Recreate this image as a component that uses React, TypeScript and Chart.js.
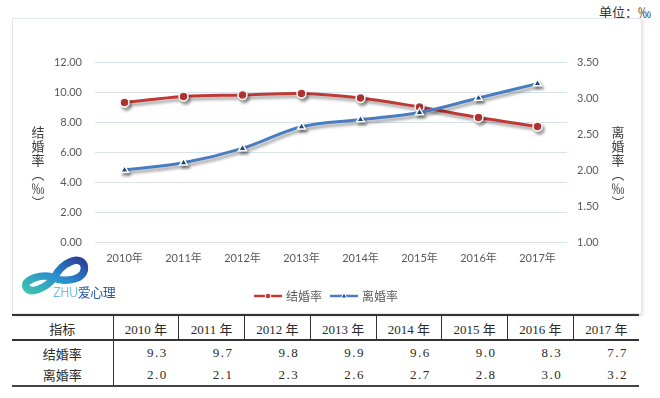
import React, { useEffect, useRef } from 'react';
import { Chart, registerables } from 'chart.js';

Chart.register(...registerables);

const years = ['2010年', '2011年', '2012年', '2013年', '2014年', '2015年', '2016年', '2017年'];
const tableYears = ['2010 年', '2011 年', '2012 年', '2013 年', '2014 年', '2015 年', '2016 年', '2017 年'];
const marriageRate = [9.3, 9.7, 9.8, 9.9, 9.6, 9.0, 8.3, 7.7];
const divorceRate = [2.0, 2.1, 2.3, 2.6, 2.7, 2.8, 3.0, 3.2];
const leftTicks = [0, 2, 4, 6, 8, 10, 12];
const rightTicks = [1.0, 1.5, 2.0, 2.5, 3.0, 3.5];
const seriesNames = ['结婚率', '离婚率'];
const leftTitleChars = ['结', '婚', '率', '︵', '‰', '︶'];
const rightTitleChars = ['离', '婚', '率', '︵', '‰', '︶'];
const unitLabel = '单位：‰';
const tableHeadLabel = '指标';

const RED = '#BE3A36';
const BLUE = '#4A7DBF';
const BLUE_MARK = '#24508F';
const CJK = '"Noto Sans CJK SC"';
const TICK_FONT = 'Lato, "Noto Sans CJK SC", sans-serif';

function makeIcon(kind: 'circle' | 'triangle') {
  const c = document.createElement('canvas');
  c.width = 28;
  c.height = 10;
  const ctx = c.getContext('2d')!;
  ctx.strokeStyle = kind === 'circle' ? RED : BLUE;
  ctx.lineWidth = 2.5;
  ctx.beginPath();
  ctx.moveTo(0, 5);
  ctx.lineTo(28, 5);
  ctx.stroke();
  ctx.fillStyle = kind === 'circle' ? RED : BLUE_MARK;
  ctx.strokeStyle = '#fff';
  ctx.lineWidth = 1;
  ctx.beginPath();
  if (kind === 'circle') {
    ctx.arc(14, 5, 2.8, 0, Math.PI * 2);
  } else {
    ctx.moveTo(14, 2);
    ctx.lineTo(17, 7);
    ctx.lineTo(11, 7);
    ctx.closePath();
  }
  ctx.fill();
  ctx.stroke();
  return c;
}

const shadowPlugin = {
  id: 'seriesShadow',
  beforeDatasetsDraw(chart: any) {
    const ctx = chart.ctx;
    ctx.save();
    ctx.shadowColor = 'rgba(0,0,0,0.35)';
    ctx.shadowBlur = 3;
    ctx.shadowOffsetX = 2;
    ctx.shadowOffsetY = 3;
  },
  afterDatasetsDraw(chart: any) {
    chart.ctx.restore();
  },
};

const verticalTitlePlugin = {
  id: 'verticalTitles',
  afterDraw(chart: any) {
    const { ctx, chartArea } = chart;
    ctx.save();
    ctx.font = `13px ${CJK}`;
    ctx.fillStyle = '#3a3a3a';
    ctx.textAlign = 'center';
    ctx.textBaseline = 'middle';
    const draw = (chars: string[], x: number) =>
      chars.forEach((ch, i) => ctx.fillText(ch, x, chartArea.top + 70 + i * 14));
    draw(leftTitleChars, chartArea.left - 57);
    draw(rightTitleChars, chartArea.right + 51);
    ctx.restore();
  },
};

function ChartBox() {
  const ref = useRef<HTMLCanvasElement>(null);
  useEffect(() => {
    const icons = [makeIcon('circle'), makeIcon('triangle')];
    const chart = new Chart(ref.current!, {
      type: 'line',
      data: {
        labels: years,
        datasets: [
          {
            label: seriesNames[0],
            data: marriageRate,
            yAxisID: 'y',
            borderColor: RED,
            backgroundColor: RED,
            borderWidth: 3,
            tension: 0.35,
            pointStyle: 'circle',
            pointRadius: 4.5,
            pointBackgroundColor: RED,
            pointBorderColor: '#fff',
            pointBorderWidth: 1.5,
            order: 1,
          },
          {
            label: seriesNames[1],
            data: divorceRate,
            yAxisID: 'y1',
            borderColor: BLUE,
            backgroundColor: BLUE,
            borderWidth: 3,
            tension: 0.35,
            pointStyle: 'triangle',
            pointRadius: 4.5,
            pointBackgroundColor: BLUE_MARK,
            pointBorderColor: '#fff',
            pointBorderWidth: 1.5,
            order: 0,
          },
        ],
      },
      options: {
        animation: false,
        responsive: false,
        layout: { padding: { left: 0, right: 0, top: 43, bottom: 1 } },
        plugins: {
          tooltip: { enabled: false },
          legend: {
            position: 'bottom',
            labels: {
              usePointStyle: true,
              pointStyleWidth: 24,
              boxHeight: 10,
              padding: 10,
              color: '#595959',
              font: { size: 12, family: CJK },
              generateLabels: (c: any) => {
                const items = (Chart.defaults.plugins.legend.labels as any).generateLabels(c);
                return items
                  .sort((a: any, b: any) => a.datasetIndex - b.datasetIndex)
                  .map((it: any) => ({ ...it, pointStyle: icons[it.datasetIndex], lineWidth: 0 }));
              },
            },
          },
        },
        scales: {
          x: {
            offset: true,
            grid: { display: false, drawTicks: false, offset: true },
            border: { display: false },
            ticks: { padding: 10, color: '#595959', font: { size: 11, family: TICK_FONT } },
            afterFit: (s: any) => {
              s.height = 38;
            },
          },
          y: {
            position: 'left',
            min: 0,
            max: 12,
            grid: { color: '#d9e3ee', lineWidth: 1, drawTicks: false },
            border: { display: false },
            ticks: {
              padding: 13,
              color: '#595959',
              font: { size: 11, family: TICK_FONT },
              callback: (v: any) => Number(v).toFixed(2),
            },
            afterBuildTicks: (s: any) => {
              s.ticks = leftTicks.map((v) => ({ value: v }));
            },
            afterFit: (s: any) => {
              s.width = 82;
            },
          },
          y1: {
            position: 'right',
            min: 1,
            max: 3.5,
            grid: { display: false, drawTicks: false },
            border: { display: false },
            ticks: {
              padding: 10,
              color: '#595959',
              font: { size: 11, family: TICK_FONT },
              callback: (v: any) => Number(v).toFixed(2),
            },
            afterBuildTicks: (s: any) => {
              s.ticks = rightTicks.map((v) => ({ value: v }));
            },
            afterFit: (s: any) => {
              s.width = 74;
            },
          },
        },
      } as any,
      plugins: [shadowPlugin, verticalTitlePlugin],
    });
    return () => chart.destroy();
  }, []);
  return <canvas ref={ref} width={628} height={294} style={{ display: 'block' }} />;
}

function Logo() {
  return (
    <div style={{ position: 'absolute', left: 18, top: 254, width: 110, height: 48 }}>
      <svg width={80} height={46} style={{ position: 'absolute', left: 0, top: 0 }}>
        <defs>
          <linearGradient id="lg" x1="0" y1="1" x2="1" y2="0">
            <stop offset="0" stopColor="#3fc1b0" />
            <stop offset="0.5" stopColor="#2a8fd0" />
            <stop offset="1" stopColor="#2b3f9a" />
          </linearGradient>
        </defs>
        <path
          d="M36 24 C28 34 12 41 8 33 C5 25 26 19 36 24 C46 29 70 26 66 11 C62 1 44 8 36 24 Z"
          fill="none"
          stroke="url(#lg)"
          strokeWidth={7.5}
          strokeLinejoin="round"
        />
      </svg>
      <div
        style={{
          position: 'absolute',
          left: 35,
          top: 31,
          fontFamily: CJK,
          fontSize: 13,
          lineHeight: '14px',
          whiteSpace: 'nowrap',
          letterSpacing: -0.5,
        }}
      >
        <span style={{ color: '#4aa6df', fontWeight: 300 }}>ZHU</span>
        <span style={{ color: '#2b5aa6' }}>爱心理</span>
      </div>
    </div>
  );
}

function DataTable() {
  const cell: React.CSSProperties = { padding: 0, height: 21, whiteSpace: 'nowrap' };
  const head: React.CSSProperties = { ...cell, height: 22, paddingTop: 1, textAlign: 'center' };
  return (
    <table
      style={{
        position: 'absolute',
        left: 12,
        top: 314,
        width: 627,
        borderCollapse: 'collapse',
        tableLayout: 'fixed',
        fontFamily: '"Liberation Serif", "Noto Sans CJK SC", serif',
        fontSize: 13,
        color: '#2a2a2a',
      }}
    >
      <colgroup>
        <col style={{ width: 101 }} />
        {tableYears.map((y) => (
          <col key={y} style={{ width: 65.75 }} />
        ))}
      </colgroup>
      <thead>
        <tr style={{ borderTop: '2px solid #333', borderBottom: '2px solid #333' }}>
          <td style={{ ...head, fontFamily: CJK, borderRight: '1px solid #333' }}>{tableHeadLabel}</td>
          {tableYears.map((y) => (
            <td key={y} style={{ ...head, borderLeft: '1px solid #333' }}>
              {y}
            </td>
          ))}
        </tr>
      </thead>
      <tbody>
        {[marriageRate, divorceRate].map((row, r) => (
          <tr key={r} style={r === 1 ? { borderBottom: '2px solid #444' } : undefined}>
            <td
              style={{
                ...cell,
                height: r === 0 ? 22 : 21,
                paddingTop: r === 0 ? 1 : 0,
                textAlign: 'center',
                fontFamily: CJK,
                borderRight: '1px solid #333',
              }}
            >
              {seriesNames[r]}
            </td>
            {row.map((v, i) => (
              <td key={i} style={{ ...cell, textAlign: 'right', paddingRight: 11, letterSpacing: 1.5 }}>
                {v.toFixed(1)}
              </td>
            ))}
          </tr>
        ))}
      </tbody>
    </table>
  );
}

export default function App() {
  return (
    <div style={{ position: 'absolute', left: 0, top: 0, width: 660, height: 398, background: '#fff', overflow: 'hidden' }}>
      <div
        style={{
          position: 'absolute',
          left: 599,
          top: 2,
          fontFamily: CJK,
          fontSize: 13,
          color: '#333',
          whiteSpace: 'nowrap',
        }}
      >
        {unitLabel}
      </div>
      <div
        style={{
          position: 'absolute',
          left: 12,
          top: 18,
          width: 628,
          height: 294,
          border: '1px solid #dfe6ee',
          boxShadow: '1px 2px 3px rgba(0,0,0,0.12)',
          background: '#fff',
        }}
      >
        <ChartBox />
      </div>
      <Logo />
      <DataTable />
    </div>
  );
}
